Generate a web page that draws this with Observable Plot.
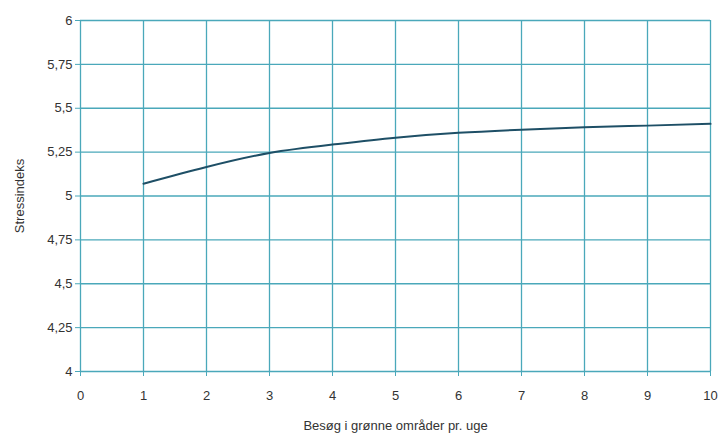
<!DOCTYPE html>
<html><head><meta charset="utf-8">
<script src="https://cdn.jsdelivr.net/npm/d3@7"></script>
<script src="https://cdn.jsdelivr.net/npm/@observablehq/plot@0.6"></script>
<style>
html,body{margin:0;padding:0;background:#fff;}
svg{font-family:"Liberation Sans Narrow","Liberation Sans",Arial,sans-serif;}
</style></head>
<body><div id="chart"></div>
<script>
const visits = [1, 2, 3, 4, 5, 6, 7, 8, 9, 10];
const stress = [5.07, 5.165, 5.245, 5.293, 5.332, 5.36, 5.378, 5.392, 5.401, 5.411];
const xTicks = [0, 1, 2, 3, 4, 5, 6, 7, 8, 9, 10];
const yTicks = [4, 4.25, 4.5, 4.75, 5, 5.25, 5.5, 5.75, 6];
const xTitle = "Besøg i grønne områder pr. uge";
const yTitle = "Stressindeks";

const data = visits.map((v, i) => ({x: v, y: stress[i]}));
const grid = "#4aa8ba";
const fmt = d => String(d).replace(".", ",");

const chart = Plot.plot({
  width: 718,
  height: 433,
  marginLeft: 80,
  marginRight: 8,
  marginTop: 20,
  marginBottom: 62,
  style: {fontSize: "13px", color: "#333", background: "#fff"},
  x: {domain: [0, 10]},
  y: {domain: [4, 6]},
  marks: [
    Plot.ruleX(xTicks, {stroke: grid, strokeWidth: 1.3, strokeOpacity: 1}),
    Plot.ruleY(yTicks, {stroke: grid, strokeWidth: 1.3, strokeOpacity: 1}),
    Plot.axisX({ticks: xTicks, tickFormat: d => String(d), tickSize: 5, tickPadding: 14, stroke: grid, strokeOpacity: 1, fill: "#333", fontSize: 13, label: xTitle, labelAnchor: "center", labelOffset: 58, labelArrow: "none"}),
    Plot.axisY({ticks: yTicks, tickFormat: fmt, tickSize: 5, tickPadding: 3, stroke: grid, strokeOpacity: 1, fill: "#333", fontSize: 13, label: yTitle, labelAnchor: "center", labelOffset: 66, labelArrow: "none"}),
    Plot.line(data, {x: "x", y: "y", stroke: "#1e4f66", strokeWidth: 2, curve: "natural"})
  ]
});
document.getElementById("chart").appendChild(chart);
</script></body></html>
